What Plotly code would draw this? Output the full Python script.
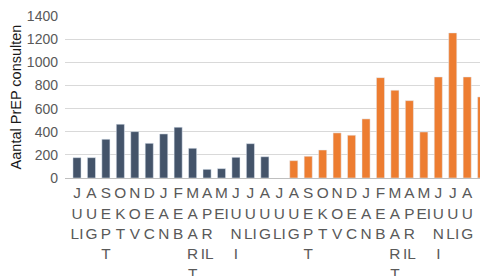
import plotly.graph_objects as go

months = ["JULI", "AUG", "SEPT", "OKT", "NOV", "DEC", "JAN", "FEB", "MAART", "APRIL",
          "MEI", "JUNI", "JULI", "AUG", "JULI", "AUG", "SEPT", "OKT", "NOV", "DEC",
          "JAN", "FEB", "MAART", "APRIL", "MEI", "JUNI", "JULI", "AUG", ""]
# wrapped the way the reference wraps each month name into narrow columns
tick_labels = {
    "JULI": ["J", "U", "LI"], "APRIL": ["A", "P", "R", "IL"], "MEI": ["M", "EI"],
}

series_1 = [176, 176, 335, 465, 401, 300, 381, 439, 257, 75, 81, 179, 297, 184]
series_2 = [150, 188, 242, 390, 370, 511, 868, 759, 669, 398, 874, 1255, 874, 701]

n = len(months)
x_idx = list(range(n))
y1 = series_1 + [None] * (n - len(series_1))
start2 = n - len(series_2)
y2 = [None] * start2 + series_2

ticktext = ["<br>".join(tick_labels.get(m, list(m))) for m in months]

fig = go.Figure()
fig.add_trace(go.Bar(x=x_idx, y=y1, marker_color="#44546a", width=0.56, name="1"))
fig.add_trace(go.Bar(x=x_idx, y=y2, marker_color="#ed7d31", width=0.56, name="2"))

# page body has an 8px margin, so the figure is 8px smaller and margins shifted
fig.update_layout(
    width=480, height=268,
    margin=dict(l=57, r=0, t=8, b=98),
    barmode="overlay",
    showlegend=False,
    plot_bgcolor="white",
    paper_bgcolor="white",
    font=dict(family="Liberation Sans", color="#595959"),
)
fig.update_xaxes(
    tickmode="array", tickvals=x_idx, ticktext=ticktext,
    range=[-0.83, 28.44], showgrid=False, tickangle=0, automargin=False,
    tickfont=dict(size=15.4, color="#595959"), ticklabelstandoff=1,
    showline=True, linecolor="#bfbfbf", linewidth=1, ticks="",
)
fig.update_yaxes(
    range=[0, 1401], dtick=200, showgrid=True, gridcolor="#d9d9d9", gridwidth=1,
    tickfont=dict(size=14, color="#595959"), zeroline=False, automargin=False,
    ticklabelstandoff=6,
    title=dict(text="Aantal PrEP consulten", font=dict(size=14.5, color="#1a1a1a"), standoff=5),
)

fig.write_html("out.html")
